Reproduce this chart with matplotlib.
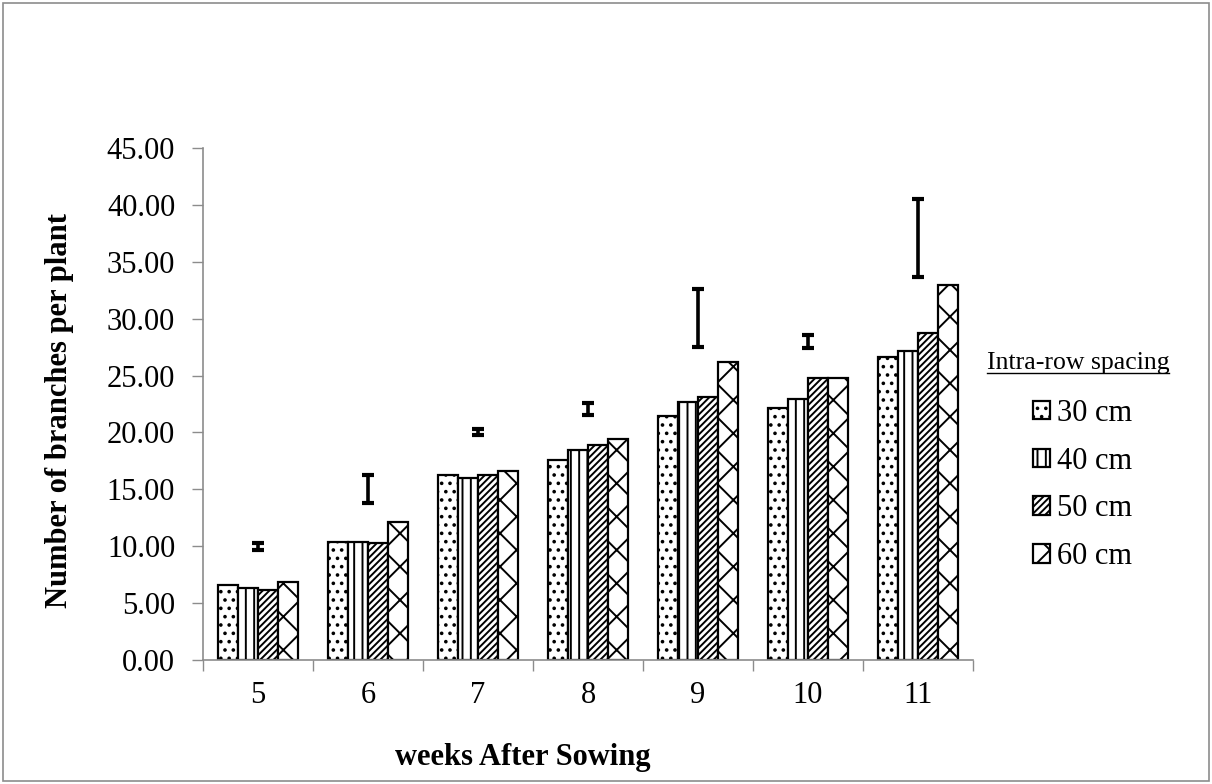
import numpy as np
import matplotlib
matplotlib.use("Agg")
import matplotlib.pyplot as plt
from matplotlib.patches import Rectangle
from matplotlib.lines import Line2D

# Data
weeks = [5, 6, 7, 8, 9, 10, 11]
spacings = ["30 cm", "40 cm", "50 cm", "60 cm"]
branches_30 = [6.60, 10.35, 16.25, 17.58, 21.44, 22.15, 26.66]
branches_40 = [6.30, 10.33, 16.00, 18.50, 22.70, 22.97, 27.13]
branches_50 = [6.15, 10.25, 16.23, 18.87, 23.15, 24.76, 28.77]
branches_60 = [6.86, 12.16, 16.60, 19.45, 26.19, 24.76, 32.93]
# LSD bars (bottom / top)
lsd_low = [9.70, 13.80, 19.80, 21.50, 27.55, 27.40, 33.70]
lsd_high = [10.30, 16.30, 20.30, 22.60, 32.60, 28.60, 40.50]

series = [branches_30, branches_40, branches_50, branches_60]
hatches = ["..", "||", "/////", "x"]

plt.rcParams["font.family"] = ["Liberation Serif", "DejaVu Serif"]
plt.rcParams["hatch.linewidth"] = 1.4
plt.rcParams["hatch.color"] = "black"

fig = plt.figure(figsize=(12.12, 7.84), dpi=100)
ax = fig.add_axes([203 / 1212, 1 - 660 / 784, 770 / 1212, 512 / 784])

x = np.array(weeks, dtype=float)
width = 0.18
offsets = [-1.5 * width, -0.5 * width, 0.5 * width, 1.5 * width]
for vals, off, h, lab in zip(series, offsets, hatches, spacings):
    ax.bar(x + off, vals, width=width, color="white", edgecolor="black",
           linewidth=1.6, hatch=h, label=lab, zorder=2)

# floating LSD bars
low = np.array(lsd_low)
high = np.array(lsd_high)
ax.errorbar(x, (low + high) / 2, yerr=(high - low) / 2, fmt="none",
            ecolor="black", elinewidth=2.6, capsize=4.3, capthick=3.0, zorder=3)

ax.set_xlim(4.5, 11.5)
ax.set_ylim(0, 45)
ax.set_yticks(np.arange(0, 46, 5))
ax.set_yticklabels([f"{v:.2f}" for v in np.arange(0, 46, 5)])
ax.set_xticks(weeks)
ax.set_xticks(np.arange(4.5, 11.6, 1), minor=True)
ax.tick_params(axis="x", which="major", length=0, pad=15, labelsize=22)
ax.tick_params(axis="x", which="minor", length=8, color="#8c8c8c", width=1)
ax.tick_params(axis="y", length=8, color="#8c8c8c", width=1, pad=12, labelsize=22)
for s in ["top", "right"]:
    ax.spines[s].set_visible(False)
for s in ["left", "bottom"]:
    ax.spines[s].set_color("#8c8c8c")
    ax.spines[s].set_linewidth(1.2)

fig.text(60 / 1212, 1 - 410 / 784, "Number of branches per plant", rotation=90,
         ha="center", va="center", fontsize=22, fontweight="bold")
fig.text(523 / 1212, 1 - 758 / 784, "weeks After Sowing",
         ha="center", va="center", fontsize=22, fontweight="bold")

leg = ax.legend(loc="center left", bbox_to_anchor=(1033 / 1212, 1 - 485 / 784),
                bbox_transform=fig.transFigure, frameon=False, fontsize=22,
                handlelength=0.55, handleheight=0.55, handletextpad=0.25,
                labelspacing=0.62, borderpad=0, borderaxespad=0)

title = fig.text(1078 / 1212, 1 - 363 / 784, "Intra-row spacing",
                 ha="center", va="center", fontsize=18.5)
fig.canvas.draw()
bb = title.get_window_extent().transformed(fig.transFigure.inverted())
uy = 1 - 373 / 784
fig.add_artist(Line2D([bb.x0, bb.x1], [uy, uy], color="black", linewidth=1.0,
                      transform=fig.transFigure))

# outer chart border
fig.add_artist(Rectangle((3 / 1212, 3 / 784), 1206 / 1212, 778 / 784,
                         transform=fig.transFigure, fill=False,
                         edgecolor="#8c8c8c", linewidth=1.2))

fig.savefig("out.png", dpi=100)
